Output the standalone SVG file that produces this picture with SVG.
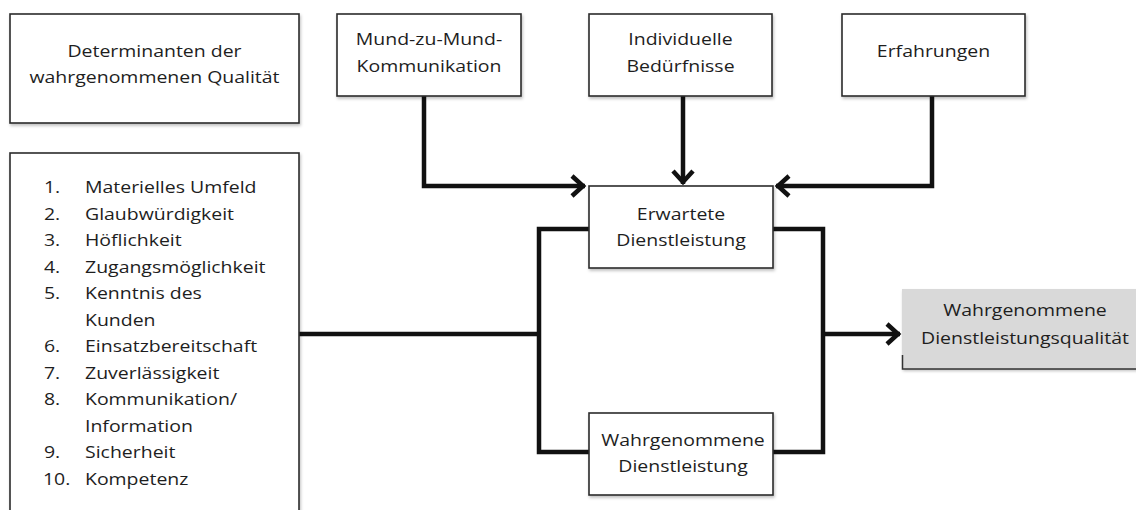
<svg xmlns="http://www.w3.org/2000/svg" width="1136" height="510" viewBox="0 0 1136 510">
  <defs>
    <filter id="sh" x="-5%" y="-5%" width="115%" height="120%">
      <feDropShadow dx="1" dy="2" stdDeviation="1.5" flood-color="#000" flood-opacity="0.25"/>
    </filter>
    <marker id="arr" viewBox="-18 -14 20 28" refX="0" refY="0" markerWidth="20" markerHeight="28" markerUnits="userSpaceOnUse" orient="auto">
      <path d="M-13,-10 L-2,0 L-13,10" fill="none" stroke="#111" stroke-width="4.5"/>
    </marker>
    <style>
      .box { fill: #fff; stroke: #2b2b2b; stroke-width: 1.6; filter: url(#sh); }
      .gbox { fill: #d9d9d9; stroke: none; filter: url(#sh); }
      .t { font-family: "Open Sans", "Noto Sans", sans-serif; font-size: 16.5px; fill: #1e1e1e; }
      .c { text-anchor: middle; }
      .ln { fill: none; stroke: #111; stroke-width: 4.5; stroke-linejoin: miter; }
    </style>
  </defs>
  <rect width="1136" height="510" fill="#fff"/>

  <g id="connectors">
    <path class="ln" d="M424,96 V186 H585" marker-end="url(#arr)"/>
    <path class="ln" d="M683,96 V184" marker-end="url(#arr)"/>
    <path class="ln" d="M932,96 V186 H776" marker-end="url(#arr)"/>
    <path class="ln" d="M299,334 H539"/>
    <path class="ln" d="M589,229 H539 V452 H589"/>
    <path class="ln" d="M773,229 H823 V452 H773"/>
    <path class="ln" d="M823,334 H900" marker-end="url(#arr)"/>
  </g>

  <g id="determinanten">
    <rect class="box" x="10" y="14" width="289" height="109"/>
    <text class="t c" transform="translate(154.5,57) scale(1.18,1)">Determinanten der</text>
    <text class="t c" transform="translate(154.5,83) scale(1.18,1)">wahrgenommenen Qualität</text>
  </g>

  <g id="liste">
    <rect class="box" x="10" y="153" width="289" height="380"/>
    <g class="t">
      <text transform="translate(44,193) scale(1.18,1)">1.</text>
      <text transform="translate(85,193) scale(1.18,1)">Materielles Umfeld</text>
      <text transform="translate(44,219.5) scale(1.18,1)">2.</text>
      <text transform="translate(85,219.5) scale(1.18,1)">Glaubwürdigkeit</text>
      <text transform="translate(44,246) scale(1.18,1)">3.</text>
      <text transform="translate(85,246) scale(1.18,1)">Höflichkeit</text>
      <text transform="translate(44,272.5) scale(1.18,1)">4.</text>
      <text transform="translate(85,272.5) scale(1.18,1)">Zugangsmöglichkeit</text>
      <text transform="translate(44,299) scale(1.18,1)">5.</text>
      <text transform="translate(85,299) scale(1.18,1)">Kenntnis des</text>
      <text transform="translate(85,325.5) scale(1.18,1)">Kunden</text>
      <text transform="translate(44,352) scale(1.18,1)">6.</text>
      <text transform="translate(85,352) scale(1.18,1)">Einsatzbereitschaft</text>
      <text transform="translate(44,378.5) scale(1.18,1)">7.</text>
      <text transform="translate(85,378.5) scale(1.18,1)">Zuverlässigkeit</text>
      <text transform="translate(44,405) scale(1.18,1)">8.</text>
      <text transform="translate(85,405) scale(1.18,1)">Kommunikation/</text>
      <text transform="translate(85,431.5) scale(1.18,1)">Information</text>
      <text transform="translate(44,458) scale(1.18,1)">9.</text>
      <text transform="translate(85,458) scale(1.18,1)">Sicherheit</text>
      <text transform="translate(43,484.5) scale(1.18,1)">10.</text>
      <text transform="translate(85,484.5) scale(1.18,1)">Kompetenz</text>
    </g>
  </g>

  <g id="mund">
    <rect class="box" x="337" y="14" width="184" height="82"/>
    <text class="t c" transform="translate(429,45) scale(1.18,1)">Mund-zu-Mund-</text>
    <text class="t c" transform="translate(429,72) scale(1.18,1)">Kommunikation</text>
  </g>

  <g id="beduerfnisse">
    <rect class="box" x="589" y="14" width="183" height="82"/>
    <text class="t c" transform="translate(680.5,45) scale(1.18,1)">Individuelle</text>
    <text class="t c" transform="translate(680.5,72) scale(1.18,1)">Bedürfnisse</text>
  </g>

  <g id="erfahrungen">
    <rect class="box" x="842" y="14" width="183" height="82"/>
    <text class="t c" transform="translate(933.5,57) scale(1.18,1)">Erfahrungen</text>
  </g>

  <g id="erwartete">
    <rect class="box" x="589" y="186" width="184" height="82"/>
    <text class="t c" transform="translate(681,220) scale(1.18,1)">Erwartete</text>
    <text class="t c" transform="translate(681,246) scale(1.18,1)">Dienstleistung</text>
  </g>

  <g id="wahrgenommene">
    <rect class="box" x="589" y="413" width="184" height="82"/>
    <text class="t c" transform="translate(683,446) scale(1.18,1)">Wahrgenommene</text>
    <text class="t c" transform="translate(683,472) scale(1.18,1)">Dienstleistung</text>
  </g>

  <g id="qualitaet">
    <rect class="gbox" x="902" y="289" width="250" height="80"/>
    <path d="M902.5,355 V369 H1136" fill="none" stroke="#333" stroke-width="1.5"/>
    <text class="t c" transform="translate(1025,316) scale(1.18,1)">Wahrgenommene</text>
    <text class="t c" transform="translate(1025,344) scale(1.18,1)">Dienstleistungsqualität</text>
  </g>
</svg>
